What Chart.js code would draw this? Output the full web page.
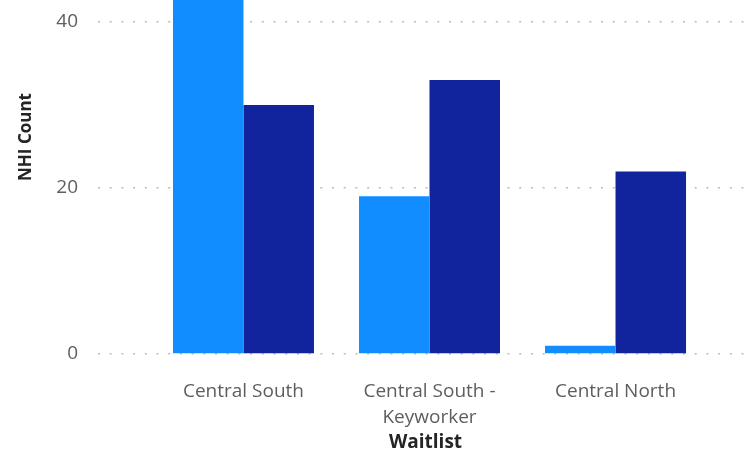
<!DOCTYPE html>
<html>
<head>
<meta charset="utf-8">
<script src="https://cdn.jsdelivr.net/npm/chart.js@4/dist/chart.umd.min.js"></script>
<style>
  html, body { margin: 0; padding: 0; background: #fff; }
  #wrap { width: 753px; height: 456px; position: relative; }
</style>
</head>
<body>
<div id="wrap"><canvas id="c" width="753" height="456"></canvas></div>
<script>
const categories = [["Central South"], ["Central South -", "Keyworker"], ["Central North"]];
const seriesA = [47, 19, 1];
const seriesB = [30, 33, 22];
const yTicks = [0, 20, 40];
const xTitle = "Waitlist";
const yTitle = "NHI Count";

const FONT = "'Open Sans', 'Noto Sans', sans-serif";

const yTitlePlugin = {
  id: 'yTitlePlugin',
  afterDraw(chart) {
    const ctx = chart.ctx;
    ctx.save();
    ctx.translate(26, 137);
    ctx.rotate(-Math.PI / 2);
    ctx.font = "bold 17px " + FONT;
    ctx.fillStyle = "#252423";
    ctx.textAlign = "center";
    ctx.textBaseline = "middle";
    ctx.fillText(yTitle, 0, 0);
    ctx.restore();
  }
};

new Chart(document.getElementById('c'), {
  type: 'bar',
  data: {
    datasets: [
      { data: seriesA.map((v, i) => ({ x: i, y: v })), backgroundColor: '#118DFF', categoryPercentage: 0.758, barPercentage: 1 },
      { data: seriesB.map((v, i) => ({ x: i, y: v })), backgroundColor: '#12239E', categoryPercentage: 0.758, barPercentage: 1 }
    ]
  },
  options: {
    responsive: false,
    animation: false,
    events: [],
    layout: { padding: 0 },
    plugins: { legend: { display: false }, tooltip: { enabled: false } },
    scales: {
      x: {
        type: 'linear',
        offset: false,
        min: -0.782,
        max: 2.739,
        grid: { display: false, offset: false },
        border: { display: false },
        afterBuildTicks: s => { s.ticks = categories.map((c, i) => ({ value: i })); },
        afterFit: s => { s.height = 102; s.paddingLeft = 0; s.paddingRight = 0; },
        ticks: {
          autoSkip: false,
          maxRotation: 0,
          padding: 16,
          color: '#605E5C',
          font: { family: FONT, size: 19, lineHeight: 1.4 },
          callback: (v) => categories[v]
        },
        title: {
          display: true,
          text: xTitle,
          color: '#252423',
          font: { family: FONT, size: 19, weight: 'bold' },
          padding: { top: 0, bottom: 2 }
        }
      },
      y: {
        min: 0,
        max: 42.65,
        afterFit: s => { s.width = 98; s.paddingTop = 0; s.paddingBottom = 0; },
        afterBuildTicks: s => { s.ticks = yTicks.map(v => ({ value: v })); },
        border: { display: false, dash: [2, 9.7] },
        grid: { drawTicks: false, color: '#BDBBB9', lineWidth: 1.5 },
        ticks: {
          padding: 20,
          color: '#605E5C',
          font: { family: FONT, size: 19 }
        }
      }
    }
  },
  plugins: [yTitlePlugin]
});
</script>
</body>
</html>
